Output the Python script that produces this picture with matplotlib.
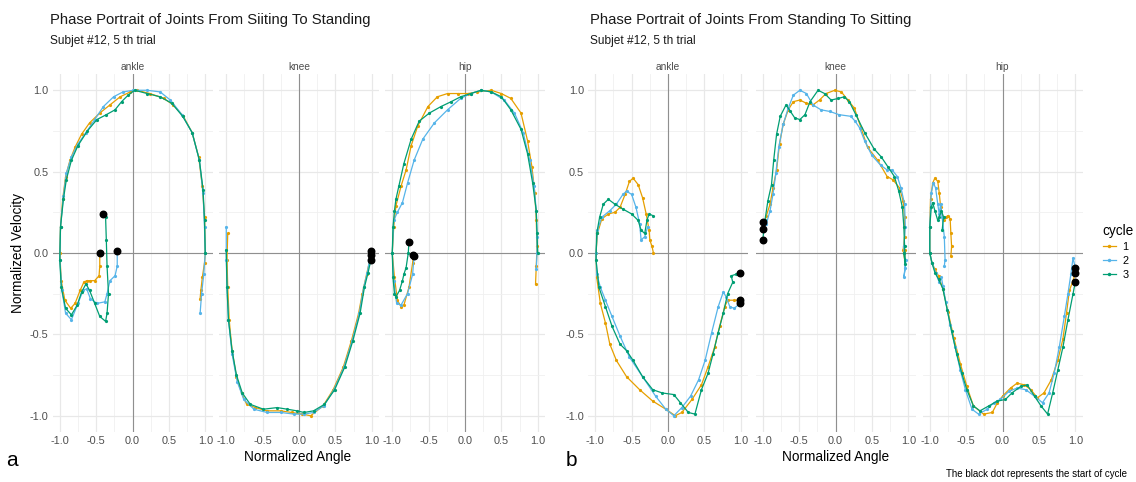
import numpy as np
import matplotlib
matplotlib.use("Agg")
import matplotlib.pyplot as plt
from matplotlib.lines import Line2D

plt.rcParams['font.family'] = ['Liberation Sans', 'DejaVu Sans']

#data#
cycles = ["1", "2", "3"]
colors = ["#E69F00", "#56B4E9", "#009E73"]
joints = ["ankle", "knee", "hip"]
ticks = [-1.0, -0.5, 0.0, 0.5, 1.0]
tick_labels = ["-1.0", "-0.5", "0.0", "0.5", "1.0"]

# sitting -> standing
a_ankle_1 = [(-0.45,0.00),(-0.45,-0.08),(-0.46,-0.14),(-0.52,-0.17),(-0.58,-0.17),(-0.63,-0.17),(-0.67,-0.18),
             (-0.72,-0.23),(-0.79,-0.31),(-0.85,-0.34),(-0.93,-0.29),(-0.98,-0.17),(-1.00,0.00),(-0.99,0.16),
             (-0.96,0.33),(-0.92,0.47),(-0.86,0.57),(-0.79,0.65),(-0.70,0.73),(-0.59,0.80),(-0.45,0.86),
             (-0.31,0.91),(-0.17,0.96),(-0.03,0.99),(0.06,1.00),(0.24,0.98),(0.43,0.95),(0.56,0.91),(0.70,0.84),
             (0.82,0.74),(0.91,0.59),(0.96,0.41),(0.99,0.22),(1.00,0.00),(0.99,-0.06),(0.96,-0.15),(0.94,-0.23),
             (0.93,-0.28)]
a_ankle_2 = [(-0.21,0.01),(-0.21,-0.08),(-0.24,-0.14),(-0.31,-0.17),(-0.35,-0.25),(-0.38,-0.30),(-0.49,-0.31),
             (-0.58,-0.28),(-0.63,-0.22),(-0.68,-0.23),(-0.75,-0.31),(-0.84,-0.41),(-0.92,-0.37),(-0.97,-0.23),
             (-1.00,-0.04),(-0.99,0.16),(-0.95,0.35),(-0.91,0.49),(-0.84,0.59),(-0.75,0.67),(-0.64,0.74),
             (-0.52,0.82),(-0.40,0.90),(-0.26,0.96),(-0.13,0.99),(0.01,1.00),(0.20,1.00),(0.38,0.99),(0.52,0.94),
             (0.68,0.85),(0.82,0.74),(0.92,0.57),(0.97,0.37),(0.99,0.16),(1.00,0.00),(0.98,-0.13),(0.95,-0.25),
             (0.93,-0.37)]
a_ankle_3 = [(-0.40,0.24),(-0.37,0.22),(-0.36,0.08),(-0.35,-0.08),(-0.33,-0.25),(-0.35,-0.37),(-0.37,-0.42),
             (-0.45,-0.39),(-0.52,-0.31),(-0.59,-0.23),(-0.64,-0.19),(-0.70,-0.24),(-0.76,-0.32),(-0.84,-0.38),
             (-0.92,-0.34),(-0.98,-0.21),(-1.00,-0.04),(-0.99,0.16),(-0.95,0.33),(-0.91,0.45),(-0.84,0.57),
             (-0.75,0.66),(-0.62,0.75),(-0.49,0.82),(-0.36,0.85),(-0.24,0.88),(-0.15,0.93),(-0.06,0.97),
             (0.03,1.00),(0.20,0.98),(0.38,0.96),(0.54,0.92),(0.69,0.84),(0.82,0.74),(0.92,0.57),(0.97,0.39),
             (0.99,0.20),(1.00,0.00)]

a_knee_1 = [(0.99,-0.01),(0.93,-0.13),(0.87,-0.25),(0.82,-0.37),(0.72,-0.54),(0.61,-0.70),(0.47,-0.84),
            (0.33,-0.94),(0.16,-1.00),(0.04,-0.99),(-0.10,-0.98),(-0.25,-0.97),(-0.44,-0.97),(-0.60,-0.95),
            (-0.72,-0.93),(-0.79,-0.86),(-0.86,-0.76),(-0.92,-0.60),(-0.96,-0.41),(-0.98,-0.21),(-0.99,-0.04),
            (-0.98,0.12)]
a_knee_2 = [(0.99,0.01),(0.94,-0.12),(0.89,-0.21),(0.83,-0.37),(0.73,-0.54),(0.62,-0.70),(0.48,-0.84),
            (0.34,-0.94),(0.20,-0.98),(0.07,-0.99),(-0.07,-0.99),(-0.25,-0.98),(-0.44,-0.98),(-0.62,-0.96),
            (-0.76,-0.90),(-0.85,-0.79),(-0.92,-0.62),(-0.97,-0.41),(-0.99,-0.21),(-1.00,-0.04),(-1.00,0.16)]
a_knee_3 = [(0.99,-0.04),(0.95,-0.12),(0.90,-0.21),(0.84,-0.37),(0.74,-0.54),(0.63,-0.70),(0.49,-0.84),
            (0.35,-0.93),(0.20,-0.97),(0.07,-0.98),(-0.03,-0.97),(-0.16,-0.96),(-0.30,-0.95),(-0.49,-0.96),
            (-0.67,-0.93),(-0.78,-0.86),(-0.86,-0.75),(-0.92,-0.60),(-0.97,-0.41),(-0.99,-0.21),(-1.00,0.02)]

a_hip_1 = [(-0.71,-0.01),(-0.72,-0.06),(-0.77,-0.21),(-0.84,-0.32),(-0.88,-0.33),(-0.93,-0.29),(-0.97,-0.15),
           (-1.00,0.00),(-0.98,0.16),(-0.95,0.29),(-0.88,0.41),(-0.81,0.51),(-0.74,0.66),(-0.65,0.78),
           (-0.51,0.90),(-0.38,0.96),(-0.24,0.98),(-0.10,0.98),(0.04,0.98),(0.17,0.99),(0.36,1.00),(0.50,0.98),
           (0.63,0.95),(0.77,0.86),(0.86,0.69),(0.92,0.53),(0.96,0.37),(0.98,0.20),(0.99,0.04),(0.98,-0.08),
           (0.97,-0.19)]
a_hip_2 = [(-0.70,-0.02),(-0.72,-0.13),(-0.79,-0.25),(-0.88,-0.32),(-0.94,-0.31),(-0.98,-0.17),(-1.00,0.00),
           (-0.98,0.20),(-0.93,0.25),(-0.86,0.31),(-0.79,0.43),(-0.70,0.57),(-0.58,0.70),(-0.42,0.80),
           (-0.24,0.88),(-0.06,0.95),(0.08,0.98),(0.22,1.00),(0.36,0.99),(0.54,0.94),(0.68,0.86),(0.80,0.74),
           (0.89,0.57),(0.95,0.41),(0.98,0.26),(0.99,0.10),(0.99,0.00),(0.98,-0.10)]
a_hip_3 = [(-0.77,0.07),(-0.78,0.00),(-0.81,-0.09),(-0.84,-0.13),(-0.86,-0.17),(-0.90,-0.23),(-0.95,-0.27),
           (-0.97,-0.25),(-0.99,-0.15),(-1.00,0.00),(-0.99,0.16),(-0.97,0.26),(-0.95,0.33),(-0.91,0.41),
           (-0.84,0.55),(-0.74,0.70),(-0.63,0.81),(-0.49,0.86),(-0.33,0.90),(-0.19,0.93),(-0.06,0.96),
           (0.08,0.98),(0.22,1.00),(0.36,0.99),(0.50,0.96),(0.63,0.88),(0.77,0.76),(0.86,0.61),(0.93,0.43),
           (0.98,0.26),(0.99,0.12),(1.00,0.00)]

# standing -> sitting
b_ankle_1 = [(0.99,-0.29),(0.91,-0.29),(0.82,-0.29),(0.78,-0.33),(0.71,-0.45),(0.64,-0.58),(0.55,-0.70),
             (0.46,-0.81),(0.33,-0.90),(0.19,-0.98),(0.10,-1.00),(-0.03,-0.96),(-0.21,-0.91),(-0.39,-0.84),
             (-0.57,-0.76),(-0.71,-0.66),(-0.80,-0.56),(-0.86,-0.43),(-0.93,-0.31),(-0.98,-0.15),(-0.99,0.00),
             (-0.97,0.12),(-0.91,0.21),(-0.82,0.24),(-0.73,0.25),(-0.66,0.28),(-0.59,0.36),(-0.53,0.44),
             (-0.48,0.46),(-0.41,0.42),(-0.35,0.34),(-0.30,0.24),(-0.26,0.14),(-0.25,0.08),(-0.22,0.04),
             (-0.20,0.00)]
b_ankle_2 = [(0.99,-0.31),(0.91,-0.34),(0.85,-0.33),(0.80,-0.27),(0.76,-0.24),(0.69,-0.33),(0.60,-0.49),
             (0.51,-0.66),(0.42,-0.78),(0.31,-0.88),(0.19,-0.95),(0.08,-1.00),(-0.03,-0.96),(-0.17,-0.88),
             (-0.35,-0.76),(-0.53,-0.64),(-0.66,-0.51),(-0.77,-0.39),(-0.86,-0.29),(-0.93,-0.21),(-0.98,-0.13),
             (-0.99,0.00),(-0.97,0.14),(-0.91,0.22),(-0.80,0.26),(-0.71,0.30),(-0.62,0.36),(-0.57,0.38),
             (-0.50,0.36),(-0.44,0.28),(-0.39,0.18),(-0.37,0.08),(-0.32,0.10),(-0.28,0.16)]
b_ankle_3 = [(0.99,-0.12),(0.94,-0.13),(0.87,-0.14),(0.89,-0.18),(0.82,-0.25),(0.76,-0.37),(0.69,-0.49),
             (0.62,-0.62),(0.55,-0.74),(0.46,-0.84),(0.37,-0.99),(0.28,-0.98),(0.17,-0.92),(0.08,-0.87),
             (-0.08,-0.86),(-0.21,-0.84),(-0.35,-0.76),(-0.48,-0.66),(-0.57,-0.60),(-0.66,-0.56),(-0.77,-0.45),
             (-0.86,-0.33),(-0.95,-0.21),(-0.99,-0.04),(-0.98,0.12),(-0.94,0.22),(-0.89,0.30),(-0.82,0.33),
             (-0.73,0.30),(-0.62,0.27),(-0.50,0.24),(-0.41,0.20),(-0.37,0.14),(-0.32,0.12),(-0.29,0.20),
             (-0.26,0.24),(-0.21,0.23)]

b_knee_1 = [(-1.00,0.15),(-0.95,0.23),(-0.90,0.30),(-0.86,0.40),(-0.81,0.51),(-0.77,0.67),(-0.72,0.79),
            (-0.65,0.88),(-0.58,0.93),(-0.49,0.94),(-0.40,0.92),(-0.31,0.91),(-0.22,0.94),(-0.13,0.98),
            (-0.01,1.00),(0.08,0.99),(0.17,0.94),(0.26,0.89),(0.35,0.77),(0.44,0.65),(0.58,0.57),(0.71,0.47),
            (0.79,0.45),(0.88,0.40),(0.93,0.32),(0.95,0.22),(0.95,0.10),(0.93,0.02),(0.95,-0.04),(0.96,0.02)]
b_knee_2 = [(-1.00,0.19),(-0.95,0.18),(-0.90,0.26),(-0.86,0.36),(-0.82,0.49),(-0.78,0.65),(-0.72,0.79),
            (-0.65,0.89),(-0.58,0.97),(-0.49,1.00),(-0.40,0.98),(-0.31,0.91),(-0.20,0.88),(-0.08,0.87),
            (0.05,0.85),(0.21,0.84),(0.27,0.81),(0.33,0.77),(0.40,0.69),(0.50,0.60),(0.62,0.54),(0.71,0.51),
            (0.78,0.51),(0.85,0.47),(0.90,0.40),(0.95,0.30),(0.96,0.16),(0.94,0.04),(0.96,-0.09),(0.94,-0.15),
            (0.97,-0.04)]
b_knee_3 = [(-1.00,0.08),(-0.97,0.20),(-0.93,0.32),(-0.88,0.42),(-0.85,0.57),(-0.81,0.73),(-0.76,0.84),
            (-0.68,0.91),(-0.62,0.87),(-0.56,0.83),(-0.49,0.82),(-0.42,0.85),(-0.35,0.93),(-0.24,1.00),
            (-0.15,0.98),(-0.06,0.94),(0.04,0.95),(0.12,0.96),(0.19,0.93),(0.28,0.85),(0.40,0.74),(0.53,0.64),
            (0.63,0.59),(0.72,0.53),(0.81,0.47),(0.87,0.38),(0.92,0.28),(0.94,0.16),(0.95,0.04),(0.96,-0.07),
            (0.94,0.00)]

b_hip_1 = [(1.00,-0.12),(0.97,-0.17),(0.92,-0.23),(0.88,-0.37),(0.83,-0.53),(0.76,-0.66),(0.67,-0.78),
           (0.57,-0.86),(0.48,-0.89),(0.39,-0.84),(0.30,-0.81),(0.20,-0.80),(0.11,-0.83),(0.00,-0.88),
           (-0.07,-0.92),(-0.14,-0.98),(-0.26,-0.99),(-0.40,-0.94),(-0.49,-0.82),(-0.58,-0.68),(-0.67,-0.52),
           (-0.75,-0.36),(-0.82,-0.22),(-0.88,-0.14),(-0.93,-0.10),(-0.97,-0.06),(-1.00,0.00),(-1.00,0.16),
           (-0.99,0.33),(-0.96,0.43),(-0.93,0.46),(-0.89,0.44),(-0.87,0.37),(-0.85,0.28),(-0.81,0.20),
           (-0.78,0.22),(-0.75,0.23),(-0.72,0.21),(-0.71,0.12),(-0.70,0.04),(-0.71,-0.02)]
b_hip_2 = [(1.00,-0.09),(0.97,-0.03),(0.94,-0.13),(0.90,-0.25),(0.85,-0.39),(0.78,-0.58),(0.71,-0.74),
           (0.64,-0.86),(0.55,-0.92),(0.44,-0.88),(0.32,-0.84),(0.20,-0.83),(0.09,-0.85),(-0.03,-0.90),
           (-0.12,-0.92),(-0.21,-0.96),(-0.33,-0.99),(-0.42,-0.96),(-0.51,-0.84),(-0.58,-0.72),(-0.65,-0.58),
           (-0.72,-0.44),(-0.78,-0.30),(-0.82,-0.20),(-0.84,-0.15),(-0.87,-0.18),(-0.92,-0.12),(-0.97,-0.06),
           (-1.00,0.00),(-1.00,0.16),(-0.98,0.37),(-0.95,0.43),(-0.92,0.40),(-0.89,0.30),(-0.87,0.24),
           (-0.85,0.30),(-0.83,0.22),(-0.80,0.10),(-0.79,-0.04),(-0.80,-0.08)]
b_hip_3 = [(1.00,-0.18),(0.97,-0.25),(0.90,-0.41),(0.83,-0.58),(0.76,-0.72),(0.69,-0.86),(0.62,-0.99),
           (0.53,-0.94),(0.44,-0.88),(0.34,-0.81),(0.25,-0.82),(0.13,-0.86),(0.04,-0.90),(-0.07,-0.91),
           (-0.19,-0.94),(-0.31,-0.97),(-0.40,-0.94),(-0.49,-0.84),(-0.56,-0.74),(-0.63,-0.62),(-0.70,-0.48),
           (-0.76,-0.35),(-0.82,-0.22),(-0.88,-0.16),(-0.93,-0.12),(-0.97,-0.06),(-1.00,0.00),(-1.00,0.16),
           (-0.98,0.28),(-0.96,0.31),(-0.93,0.26),(-0.89,0.20),(-0.87,0.22),(-0.84,0.26),(-0.81,0.22),
           (-0.83,0.14)]

panel_a = [[a_ankle_1, a_ankle_2, a_ankle_3], [a_knee_1, a_knee_2, a_knee_3], [a_hip_1, a_hip_2, a_hip_3]]
panel_b = [[b_ankle_1, b_ankle_2, b_ankle_3], [b_knee_1, b_knee_2, b_knee_3], [b_hip_1, b_hip_2, b_hip_3]]

#drawing plot#
W, H = 1136, 482
fig = plt.figure(figsize=(W/100, H/100), dpi=100)
fig.patch.set_facecolor("white")

def facet(left_px, joint, first):
    ax = fig.add_axes([left_px/W, 50/H, 160/W, 358/H])
    ax.set_xlim(-1.1, 1.1)
    ax.set_ylim(-1.1, 1.1)
    ax.set_xticks(ticks)
    ax.set_xticklabels(tick_labels)
    ax.set_yticks(ticks)
    ax.set_yticklabels(tick_labels if first else [])
    ax.set_xticks(np.arange(-0.75, 1.0, 0.5), minor=True)
    ax.set_yticks(np.arange(-0.75, 1.0, 0.5), minor=True)
    ax.grid(which="major", color="#E8E8E8", lw=0.9)
    ax.grid(which="minor", color="#F0F0F0", lw=0.6)
    ax.set_axisbelow(True)
    for s in ax.spines.values():
        s.set_visible(False)
    ax.tick_params(which="both", length=0, labelsize=7.8, labelcolor="#4D4D4D", pad=3)
    ax.axhline(0, color="#8F8F8F", lw=0.8, zorder=1)
    ax.axvline(0, color="#8F8F8F", lw=0.8, zorder=1)
    ax.set_title(joint, fontsize=7.3, color="#4D4D4D", pad=3)
    return ax

def draw_panel(lefts, data):
    for k, joint in enumerate(joints):
        ax = facet(lefts[k], joint, k == 0)
        for curve, col in zip(data[k], colors):
            xy = np.array(curve)
            ax.plot(xy[:, 0], xy[:, 1], color=col, lw=0.9, marker="o", markersize=2.3,
                    markeredgewidth=0, zorder=2)
        for curve in data[k]:
            ax.scatter(curve[0][0], curve[0][1], s=22, color="black", zorder=4)

draw_panel([52.5, 219, 385], panel_a)
draw_panel([588, 755.5, 922.5], panel_b)

# titles
fig.text(50/W, 1-20/H, "Phase Portrait of Joints From Siiting To Standing", fontsize=10.7, va="center", color="#1a1a1a")
fig.text(50/W, 1-41/H, "Subjet #12, 5 th trial", fontsize=8.6, va="center", color="#1a1a1a")
fig.text(590/W, 1-20/H, "Phase Portrait of Joints From Standing To Sitting", fontsize=10.7, va="center", color="#1a1a1a")
fig.text(590/W, 1-41/H, "Subjet #12, 5 th trial", fontsize=8.6, va="center", color="#1a1a1a")

fig.text(298/W, 1-457/H, "Normalized Angle", fontsize=9.8, ha="center", va="center")
fig.text(836/W, 1-457/H, "Normalized Angle", fontsize=9.8, ha="center", va="center")
fig.text(18/W, 1-253/H, "Normalized Velocity", fontsize=9.8, ha="center", va="center", rotation=90)

fig.text(12/W, 1-460/H, "a", fontsize=15, ha="center", va="center")
fig.text(571/W, 1-460/H, "b", fontsize=15, ha="center", va="center")
fig.text(1127/W, 1-474/H, "The black dot represents the start of cycle", fontsize=7, ha="right", va="center")

# legend
handles = [Line2D([0], [0], color=c, lw=0.9, marker="o", markersize=2.5, markeredgewidth=0) for c in colors]
leg = fig.legend(handles, cycles, title="cycle", loc="center left", bbox_to_anchor=(1093/W, 1-252/H),
                 frameon=False, fontsize=7.8, title_fontsize=9.8, handlelength=1.2, handletextpad=0.6,
                 labelspacing=0.35)
leg._legend_box.align = "left"

plt.savefig("out.png", dpi=100)
